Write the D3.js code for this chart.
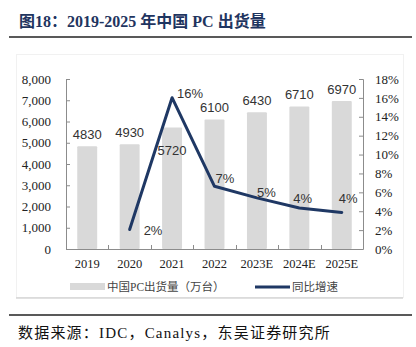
<!DOCTYPE html>
<html>
<head>
<meta charset="UTF-8">
<title>2019-2025 年中国 PC 出货量</title>
<script src="https://d3js.org/d3.v7.min.js"></script>
<style>
    body {
        margin: 0;
        background: #fff;
    }
    svg text {
        font-family: "Liberation Serif", "Noto Sans CJK SC", serif;
    }
    .axis path, .axis line {
        stroke: #8c8c8c;
    }
    .axis text {
        font-size: 12.5px;
        fill: #222;
    }
</style>
</head>
<body>
<svg id="main" width="416" height="347"></svg>
<script>
    // shipments (万台) and year-on-year growth (%)
    var years = ["2019", "2020", "2021", "2022", "2023E", "2024E", "2025E"];
    var shipments = [4830, 4930, 5720, 6100, 6430, 6710, 6970];
    var growth = [null, 2.07, 16.02, 6.64, 5.41, 4.35, 3.87];
    var leftTicks = [0, 1000, 2000, 3000, 4000, 5000, 6000, 7000, 8000];
    var rightTicks = [0, 2, 4, 6, 8, 10, 12, 14, 16, 18];

    function draw() {
        var navy = "#1f3864";
        var svg = d3.select("#main");

        var plotLeft = 66, plotRight = 363, plotTop = 79, plotBottom = 249;

        // title + rules
        svg.append("text")
            .attr("x", 19).attr("y", 27)
            .style("font-size", "16px")
            .style("font-weight", "bold")
            .style("fill", "#1f3560")
            .text("图18：2019-2025 年中国 PC 出货量");
        svg.append("line")
            .attr("x1", 9).attr("x2", 412).attr("y1", 37).attr("y2", 37)
            .style("stroke", "#222").style("stroke-width", 1.5);

        // chart frame
        svg.append("rect")
            .attr("x", 16.5).attr("y", 54.5).attr("width", 387).attr("height", 243)
            .style("fill", "none").style("stroke", "#f1f1f1");
        svg.append("line")
            .attr("x1", 16).attr("x2", 403).attr("y1", 298).attr("y2", 298)
            .style("stroke", "#c4c4c4");

        var x = d3.scaleBand()
            .domain(years)
            .range([plotLeft, plotRight])
            .paddingInner(0.53)
            .paddingOuter(0.265);
        var y = d3.scaleLinear().domain([0, 8000]).range([plotBottom, plotTop]);
        var y2 = d3.scaleLinear().domain([0, 18]).range([plotBottom, plotTop]);
        var step = x.step();

        // bars
        svg.append("g").selectAll("rect")
            .data(shipments)
            .enter()
            .append("rect")
            .attr("x", (d, i) => x(years[i]))
            .attr("y", d => y(d))
            .attr("width", x.bandwidth())
            .attr("height", d => plotBottom - y(d))
            .attr("rx", 1)
            .style("fill", "#d9d9d9");

        // axes
        var ly = svg.append("g")
            .attr("class", "axis")
            .attr("transform", "translate(" + plotLeft + ",0)")
            .call(d3.axisLeft(y).tickValues(leftTicks).tickSizeInner(-4).tickSizeOuter(-4)
                .tickPadding(15).tickFormat(d3.format(",")));
        ly.selectAll("text").style("font-size", "13px");
        var ry = svg.append("g")
            .attr("class", "axis")
            .attr("transform", "translate(" + plotRight + ",0)")
            .call(d3.axisRight(y2).tickValues(rightTicks).tickSizeInner(-4).tickSizeOuter(-4)
                .tickPadding(12).tickFormat(d => d + "%"));
        ry.selectAll("text").style("font-size", "13px");

        // x axis: baseline, ticks between categories, labels
        var xa = svg.append("g").attr("class", "axis");
        xa.append("line")
            .attr("x1", plotLeft).attr("x2", plotRight)
            .attr("y1", plotBottom + 0.5).attr("y2", plotBottom + 0.5);
        xa.selectAll(".sep")
            .data(years.slice(1))
            .enter()
            .append("line")
            .attr("x1", d => Math.round(x(d) - (step - x.bandwidth()) / 2) + 0.5)
            .attr("x2", d => Math.round(x(d) - (step - x.bandwidth()) / 2) + 0.5)
            .attr("y1", plotBottom).attr("y2", plotBottom - 4);
        xa.selectAll("text")
            .data(years)
            .enter()
            .append("text")
            .attr("x", d => x(d) + x.bandwidth() / 2)
            .attr("y", 268)
            .attr("text-anchor", "middle")
            .text(d => d);

        // bar value labels (the 2021 one sits inside the bar, below the line peak)
        svg.append("g").selectAll("text")
            .data(shipments)
            .enter()
            .append("text")
            .attr("x", (d, i) => x(years[i]) + x.bandwidth() / 2)
            .attr("y", (d, i) => i === 2 ? y(d) + 28 : y(d) - 7)
            .attr("text-anchor", "middle")
            .style("font-family", "'Liberation Sans', Arial, sans-serif")
            .style("font-size", "13px")
            .style("fill", "#333")
            .text(d => d);

        // growth line
        var pts = growth.map((g, i) => ({ year: years[i], g: g })).filter(d => d.g !== null);
        var line = d3.line()
            .x(d => x(d.year) + x.bandwidth() / 2)
            .y(d => y2(d.g));
        svg.append("path")
            .datum(pts)
            .attr("d", line)
            .style("fill", "none")
            .style("stroke", navy)
            .style("stroke-width", 3)
            .style("stroke-linejoin", "round")
            .style("stroke-linecap", "round");

        // growth labels, nudged off the line
        var nudge = [[14, 1], [5, -5], [1, -8], [0, -6], [-6, -10], [-3, -14]];
        svg.append("g").selectAll("text")
            .data(pts)
            .enter()
            .append("text")
            .attr("x", (d, i) => x(d.year) + x.bandwidth() / 2 + nudge[i][0])
            .attr("y", (d, i) => y2(d.g) + 5 + nudge[i][1])
            .style("font-family", "'Liberation Sans', Arial, sans-serif")
            .style("font-size", "13px")
            .style("fill", "#333")
            .text(d => Math.round(d.g) + "%");

        // legend
        var lg = svg.append("g").style("font-family", "'Noto Sans CJK SC', sans-serif")
            .style("font-size", "11.5px").style("fill", "#444");
        lg.append("rect")
            .attr("x", 70).attr("y", 283).attr("width", 35).attr("height", 7)
            .style("fill", "#d9d9d9");
        lg.append("text").attr("x", 107).attr("y", 291).text("中国PC出货量（万台）");
        lg.append("line")
            .attr("x1", 255).attr("x2", 290).attr("y1", 287).attr("y2", 287)
            .style("stroke", navy).style("stroke-width", 3);
        lg.append("text").attr("x", 292).attr("y", 291).text("同比增速");

        // source
        svg.append("line")
            .attr("x1", 9).attr("x2", 412).attr("y1", 315).attr("y2", 315)
            .style("stroke", "#222").style("stroke-width", 1.5);
        svg.append("text")
            .attr("x", 18).attr("y", 338)
            .style("font-size", "15px")
            .style("letter-spacing", "1.2px")
            .style("fill", "#111")
            .text("数据来源：IDC，Canalys，东吴证券研究所");
    }

    draw();
</script>
</body>
</html>
